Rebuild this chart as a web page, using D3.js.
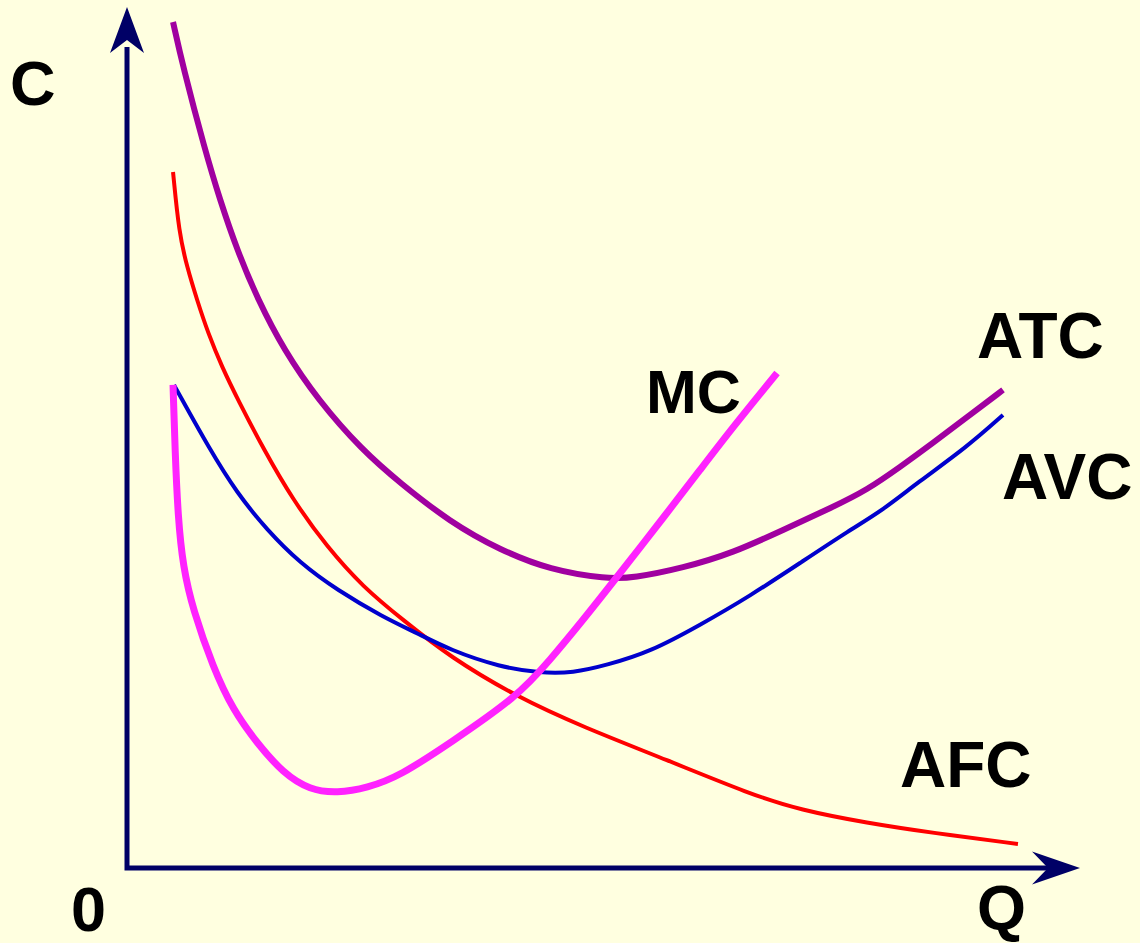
<!DOCTYPE html>
<html>
<head>
<meta charset="utf-8">
<script src="https://cdn.jsdelivr.net/npm/d3@7"></script>
<style>
  html, body { margin: 0; padding: 0; background: #FFFFE0; }
  svg { display: block; }
</style>
</head>
<body>
<svg id="chart" width="1140" height="943"></svg>
<script>
// Curve data (Q, C) in arbitrary units
const atcQ = [4.83, 5.88, 8.18, 9.76, 11.55, 13.75, 16.47, 20.04, 24.66, 28.65, 33.89, 39.14, 44.39, 50.37, 53.10, 58.34, 63.59, 68.84, 74.08, 77.65, 81.11, 84.58, 88.14, 91.92];
const atcC = [98.26, 93.03, 83.39, 77.58, 71.77, 65.97, 60.16, 54.36, 48.55, 44.72, 40.19, 36.93, 34.61, 33.57, 33.68, 34.84, 36.59, 39.26, 41.93, 43.90, 46.57, 49.36, 52.38, 55.52];

const avcQ = [4.93, 8.71, 11.54, 14.69, 18.15, 22.04, 26.86, 30.43, 33.89, 39.14, 43.34, 46.80, 50.37, 54.88, 60.13, 65.37, 70.62, 75.87, 79.33, 82.90, 88.14, 91.92];
const avcC = [56.10, 48.55, 43.55, 39.26, 35.42, 32.29, 29.15, 27.29, 25.32, 23.34, 22.65, 22.65, 23.58, 25.09, 28.22, 31.59, 35.42, 39.26, 41.58, 44.72, 48.90, 52.61];

const afcQ = [4.83, 5.46, 6.30, 7.35, 8.50, 9.97, 11.65, 14.38, 17.42, 20.99, 24.76, 28.96, 33.89, 40.92, 47.85, 56.66, 65.37, 70.62, 77.65, 84.58, 93.49];
const afcC = [80.84, 73.75, 69.80, 65.97, 62.14, 58.19, 54.36, 48.55, 42.74, 37.28, 32.64, 28.80, 24.51, 19.86, 16.38, 12.54, 8.59, 6.74, 5.23, 4.07, 2.79];

const mcQ = [4.83, 5.04, 5.35, 5.88, 6.93, 9.02, 11.12, 13.64, 16.37, 19.20, 22.04, 25.18, 28.65, 33.89, 40.92, 44.39, 47.85, 51.42, 56.66, 60.13, 63.59, 68.21];
const mcC = [56.10, 48.55, 40.77, 34.96, 29.97, 23.34, 18.35, 14.52, 11.03, 9.06, 8.71, 9.29, 10.69, 14.52, 19.86, 24.16, 28.80, 33.80, 41.23, 46.23, 51.22, 57.49];

const curveNames = ["AFC", "AVC", "ATC", "MC"];
const curveColors = ["#FF0000", "#0000CC", "#A000A0", "#FF22FF"];
const curveWidths = [4, 4, 6, 7];

const axisLabels = ["C", "Q", "0"];
const curveLabels = ["ATC", "AVC", "MC", "AFC"];

const svg = d3.select("#chart");
svg.append("rect").attr("width", 1140).attr("height", 943).attr("fill", "#FFFFE0");

const x = d3.scaleLinear().domain([0, 100]).range([127, 1080]);
const y = d3.scaleLinear().domain([0, 100]).range([868, 7]);

const line = d3.line()
  .x(d => x(d[0]))
  .y(d => y(d[1]))
  .curve(d3.curveBasis);

const series = [
  d3.zip(afcQ, afcC),
  d3.zip(avcQ, avcC),
  d3.zip(atcQ, atcC),
  d3.zip(mcQ, mcC)
];

// Axes
const axisColor = "#000066";
const x0 = x(0), y0 = y(0), xTip = x(100), yTip = y(100);
svg.append("path")
  .attr("d", `M${x0},${yTip + 40} L${x0},${y0} L${xTip - 32},${y0}`)
  .attr("fill", "none")
  .attr("stroke", axisColor)
  .attr("stroke-width", 5)
  .attr("stroke-linejoin", "miter");
// Y arrow head
svg.append("path")
  .attr("d", `M${x0},${yTip} L${x0 + 17},${yTip + 46} L${x0},${yTip + 33} L${x0 - 17},${yTip + 46} Z`)
  .attr("fill", axisColor);
// X arrow head
svg.append("path")
  .attr("d", `M${xTip},${y0} L${xTip - 48},${y0 - 16.5} L${xTip - 32},${y0} L${xTip - 48},${y0 + 16.5} Z`)
  .attr("fill", axisColor);

// Curves
series.forEach((pts, i) => {
  svg.append("path")
    .datum(pts)
    .attr("d", line)
    .attr("fill", "none")
    .attr("stroke", curveColors[i])
    .attr("stroke-width", curveWidths[i])
    .attr("stroke-linecap", "butt")
    .attr("stroke-linejoin", "round");
});

// Labels
const font = "'Liberation Sans', Arial, sans-serif";
function label(txt, px, py, size) {
  svg.append("text")
    .attr("x", px).attr("y", py)
    .attr("font-family", font)
    .attr("font-weight", "bold")
    .attr("font-size", size)
    .attr("fill", "#000000")
    .text(txt);
}
label(axisLabels[0], 10, 105, 63);
label(axisLabels[1], 977, 929, 63);
label(axisLabels[2], 71, 931, 63);
label(curveLabels[0], 977, 358, 64);
label(curveLabels[1], 1002, 499, 64);
label(curveLabels[2], 646, 413, 61);
label(curveLabels[3], 900, 787, 64);
</script>
</body>
</html>
